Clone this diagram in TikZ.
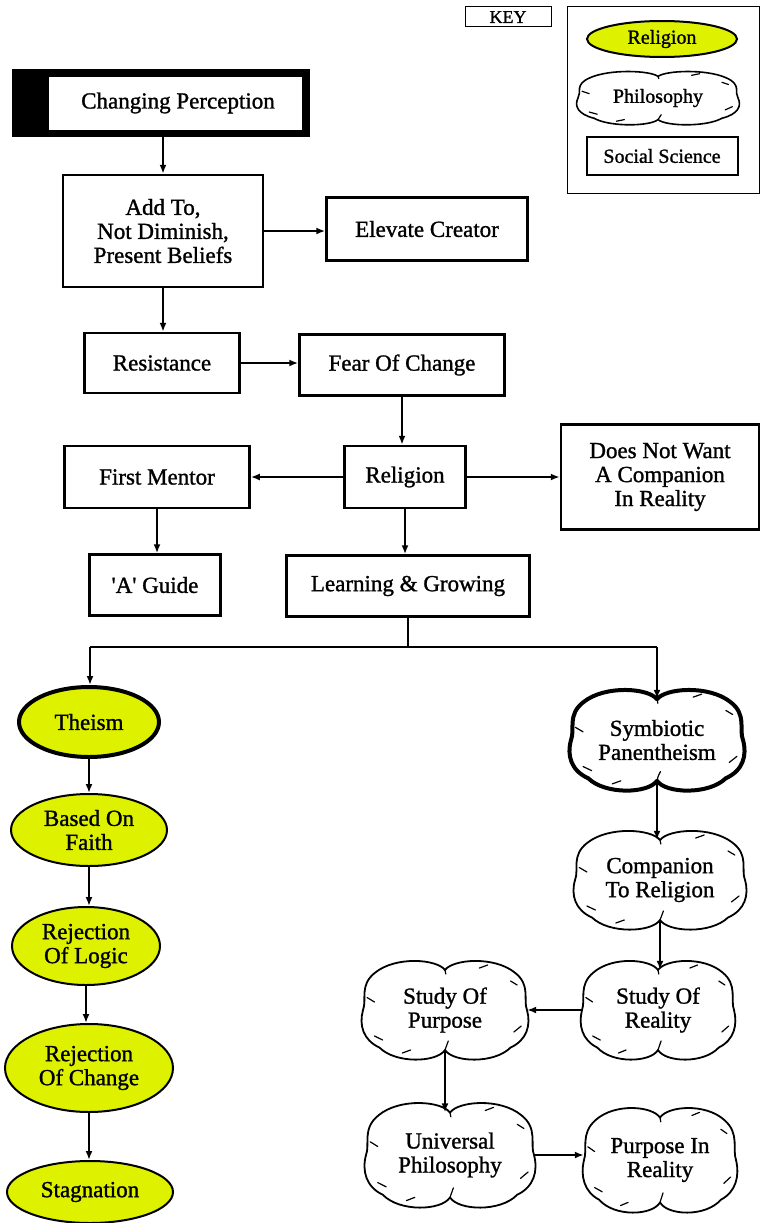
\documentclass[tikz,border=0pt]{standalone}
\usepackage{fontspec}
\setmainfont{Liberation Serif}[FakeBold=1.2]
\usetikzlibrary{shapes.geometric,arrows.meta}
\definecolor{relyellow}{RGB}{222,242,0}
\tikzset{
  txt/.style={font=\fontsize{23}{24}\selectfont},
  ktxt/.style={font=\fontsize{20}{22}\selectfont},
  box/.style={draw=black, line width=2.5pt, fill=white, inner sep=0pt, align=center, txt},
  relnode/.style={ellipse, draw=black, line width=2pt, fill=relyellow, inner sep=0pt, align=center, txt},
  cloudnode/.style={rectangle, inner sep=0pt, align=center, txt},
  cloudline/.style={draw=black, line join=round, line cap=round},
  arr/.style={-{Latex[length=9pt,width=7pt]}, line width=2pt},
  ln/.style={line width=2pt},
}
% #1 node name, #2 half width, #3 half height, #4 line width
\newcommand\mycloud[4]{%
  \begin{scope}[shift={(#1.center)}, x=#2pt, y=#3pt]
    \draw[cloudline, line width=#4]
      (0,0.8) .. controls (0.1,1.02) and (0.6,1.08) .. (0.85,0.75)
      .. controls (1.05,0.5) and (0.95,0.2) .. (1.0,0)
      .. controls (1.05,-0.3) and (1.0,-0.6) .. (0.8,-0.75)
      .. controls (0.6,-1.08) and (0.1,-1.05) .. (0,-0.8)
      .. controls (-0.1,-1.05) and (-0.6,-1.08) .. (-0.8,-0.75)
      .. controls (-1.0,-0.6) and (-1.05,-0.3) .. (-1.0,0)
      .. controls (-0.95,0.2) and (-1.05,0.5) .. (-0.85,0.75)
      .. controls (-0.6,1.08) and (-0.1,1.02) .. (0,0.8) -- cycle;
    \draw[cloudline, line width=1.2pt]
      (0,-0.8) .. controls (0.01,-0.72) .. (0.04,-0.62)
      (0,0.8) -- (0.01,0.72)
      (-0.95,0.25) -- (-0.86,0.16)
      (0.93,-0.32) -- (0.84,-0.44)
      (-0.52,-0.86) -- (-0.42,-0.8)
      (0.52,0.9) -- (0.42,0.84)
      (-0.86,-0.52) -- (-0.76,-0.6)
      (0.88,0.5) -- (0.8,0.58);
  \end{scope}}
\begin{document}
\begin{tikzpicture}[x=1pt,y=-1pt]
\useasboundingbox (0,0) rectangle (760,1223);
% key
\node[draw=black, line width=1pt, minimum width=86pt, minimum height=20pt, inner sep=0pt, font=\fontsize{18}{20}\selectfont] (key) at (508,17) {KEY};
\node[draw=black, line width=1pt, minimum width=192pt, minimum height=186pt, inner sep=0pt] (panel) at (663,100) {};
\node[relnode, minimum width=150pt, minimum height=36pt, ktxt] (krel) at (662,39) {Religion};
\node[cloudnode, minimum width=160pt, minimum height=43pt, ktxt] (kphil) at (658,98) {Philosophy};
\mycloud{kphil}{80}{27}{1.6pt}
\node[box, line width=2pt, minimum width=151pt, minimum height=38pt, ktxt] (ksoc) at (662,156) {Social Science};
% top chain
\node[fill=black, minimum width=298pt, minimum height=68pt, inner sep=0pt] (cpo) at (161,103) {};
\node[fill=white, draw=black, line width=0.8pt, minimum width=254pt, minimum height=54pt, inner sep=0pt, txt] (cp) at (175,103) {\hspace*{6pt}Changing Perception};
\node[box, minimum width=200pt, minimum height=112pt] (add) at (163,231) {Add To,\\ Not Diminish,\\ Present Beliefs};
\node[box, minimum width=201pt, minimum height=63pt] (elev) at (427,229) {Elevate Creator};
\node[box, minimum width=155pt, minimum height=60pt] (res) at (162,363) {Resistance};
\node[box, minimum width=205pt, minimum height=61pt] (fear) at (402,365) {Fear Of Change};
\node[box, minimum width=121pt, minimum height=62pt] (rel) at (405,477) {Religion};
\node[box, minimum width=185pt, minimum height=62pt] (mentor) at (157,477) {First Mentor};
\node[box, minimum width=198pt, minimum height=105pt] (dnw) at (660,477) {Does Not Want\\ A Companion\\ In Reality};
\node[box, minimum width=131pt, minimum height=61pt] (guide) at (155,585) {\textquotesingle A\textquotesingle{} Guide};
\node[box, minimum width=243pt, minimum height=61pt] (learn) at (408,586) {Learning \& Growing};
\coordinate (j) at (408,647);
\coordinate (jl) at (90,647);
\coordinate (jr) at (657,647);
% left column
\node[relnode, line width=4pt, minimum width=140pt, minimum height=70pt] (theism) at (89,722) {Theism};
\node[relnode, minimum width=156pt, minimum height=72pt] (faith) at (89,830) {Based On\\ Faith};
\node[relnode, minimum width=148pt, minimum height=78pt] (logic) at (86,946) {Rejection\\ Of Logic};
\node[relnode, minimum width=168pt, minimum height=88pt] (change) at (89,1068) {Rejection\\ Of Change};
\node[relnode, minimum width=166pt, minimum height=62pt] (stag) at (90,1192) {Stagnation};
% right column
\node[cloudnode, minimum width=172pt, minimum height=82pt] (symb) at (657,740) {Symbiotic\\ Panentheism};
\mycloud{symb}{86}{51}{4pt}
\node[cloudnode, minimum width=170pt, minimum height=80pt] (comp) at (660,880) {Companion\\ To Religion};
\mycloud{comp}{85}{50}{1.8pt}
\node[cloudnode, minimum width=152pt, minimum height=80pt] (sreal) at (658,1010) {Study Of\\ Reality};
\mycloud{sreal}{76}{50}{1.8pt}
\node[cloudnode, minimum width=164pt, minimum height=80pt] (spurp) at (445,1010) {Study Of\\ Purpose};
\mycloud{spurp}{82}{50}{1.8pt}
\node[cloudnode, minimum width=168pt, minimum height=85pt] (univ) at (450,1155) {Universal\\ Philosophy};
\mycloud{univ}{84}{53}{1.8pt}
\node[cloudnode, minimum width=152pt, minimum height=85pt] (pir) at (660,1160) {Purpose In\\ Reality};
\mycloud{pir}{76}{53}{1.8pt}
% connectors
\draw[arr] (cpo.south -| add.north) -- (add.north);
\draw[arr] (add.east) -- (elev.west |- add.east);
\draw[arr] (add.south) -- (res.north -| add.south);
\draw[arr] (res.east) -- (fear.west |- res.east);
\draw[arr] (fear.south) -- (rel.north -| fear.south);
\draw[arr] (rel.west) -- (mentor.east);
\draw[arr] (rel.east) -- (dnw.west);
\draw[arr] (mentor.south) -- (guide.north -| mentor.south);
\draw[arr] (rel.south) -- (learn.north -| rel.south);
\draw[ln] (learn.south) -- (j);
\draw[ln] (jl) -- (jr);
\draw[arr] (jl) -- (theism.north -| jl);
\draw[arr] (jr) -- (symb.north -| jr);
\draw[arr] (theism.south) -- (faith.north -| theism.south);
\draw[arr] (faith.south) -- (logic.north -| faith.south);
\draw[arr] (logic.south) -- (change.north -| logic.south);
\draw[arr] (change.south) -- (stag.north -| change.south);
\draw[arr] (symb.south) -- (comp.north -| symb.south);
\draw[arr] (comp.south) -- (sreal.north -| comp.south);
\draw[arr] (sreal.west) -- (spurp.east |- sreal.west);
\draw[arr] (spurp.south) -- (univ.north -| spurp.south);
\draw[arr] (univ.east) -- (pir.west |- univ.east);
\end{tikzpicture}
\end{document}
